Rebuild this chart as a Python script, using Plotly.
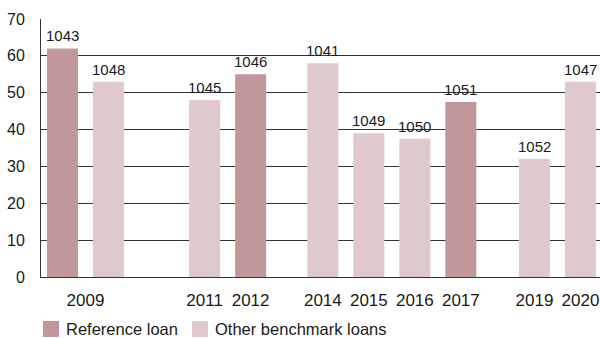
import plotly.graph_objects as go

# Benchmark loans by year of issue
loan_ids = ["1043", "1048", "1045", "1046", "1041", "1049", "1050", "1051", "1052", "1047"]
issue_years = ["2009", "2009", "2011", "2012", "2014", "2015", "2016", "2017", "2019", "2020"]
amounts = [62, 53, 48, 55, 58, 39, 37.5, 47.5, 32, 53]
is_reference = [True, False, False, True, False, False, False, True, False, False]

REF_COLOR = "#c1979c"
OTHER_COLOR = "#e0c9cc"
TEXT_COLOR = "#1a1a1a"
GRID_COLOR = "#333333"
FONT = "Liberation Sans, Arial, sans-serif"

# Slot layout: one unit per bar, plus a narrower spacer for years without issues
spacer = {2010: 1.09, 2013: 0.57, 2018: 0.6}
slots = []
pos = 0.0
prev = None
for y in issue_years:
    yr = int(y)
    if prev is not None:
        if yr == prev:
            pos += 1
        else:
            pos += 1 + sum(spacer.get(m, 1) for m in range(prev + 1, yr))
    slots.append(pos)
    prev = yr

# Tick at the middle of each year's bars
tick_years = list(dict.fromkeys(issue_years))
tick_pos = [
    sum(s for s, y in zip(slots, issue_years) if y == ty) / issue_years.count(ty)
    for ty in tick_years
]

colors = [REF_COLOR if r else OTHER_COLOR for r in is_reference]

fig = go.Figure(
    go.Bar(
        x=slots,
        y=amounts,
        width=0.674,
        marker=dict(color=colors, line=dict(width=0)),
        showlegend=False,
        hoverinfo="skip",
    )
)

# Loan number above each bar
for xs, v, lid in zip(slots, amounts, loan_ids):
    fig.add_annotation(
        x=xs, y=v, text=lid, showarrow=False,
        xanchor="center", yanchor="bottom", yshift=2,
        font=dict(size=15, color=TEXT_COLOR, family=FONT),
    )

fig.update_layout(
    width=600,
    height=338,
    margin=dict(l=41, r=0, t=19, b=61),
    paper_bgcolor="white",
    plot_bgcolor="white",
    font=dict(family=FONT, size=16, color=TEXT_COLOR),
    xaxis=dict(
        range=[-0.467, 11.685],
        tickvals=tick_pos,
        ticktext=tick_years,
        showgrid=False,
        zeroline=False,
        showline=True,
        linecolor=GRID_COLOR,
        linewidth=1,
        ticks="",
        ticklabelstandoff=8,
        tickfont=dict(size=17),
    ),
    yaxis=dict(
        range=[0, 70],
        dtick=10,
        showgrid=True,
        gridcolor=GRID_COLOR,
        gridwidth=1,
        zeroline=False,
        showline=True,
        linecolor=GRID_COLOR,
        linewidth=1,
        ticks="",
        ticklabelstandoff=12,
        tickfont=dict(size=16),
    ),
)

# Legend drawn as swatches + labels below the axis
legend_items = [("Reference loan", REF_COLOR, 43), ("Other benchmark loans", OTHER_COLOR, 192)]
for label, color, px in legend_items:
    fig.add_shape(
        type="rect",
        xref="paper", yref="paper",
        x0=(px - 41) / 559, x1=(px + 16 - 41) / 559,
        y0=-(321 + 16 - 277) / 258, y1=-(321 - 277) / 258,
        fillcolor=color, line=dict(width=0),
    )
    fig.add_annotation(
        xref="paper", yref="paper",
        x=(px + 21 - 41) / 559, y=-(329 - 277) / 258,
        xanchor="left", yanchor="middle",
        text=label, showarrow=False,
        font=dict(size=16.5, color=TEXT_COLOR),
    )

fig.write_html("out.html")
